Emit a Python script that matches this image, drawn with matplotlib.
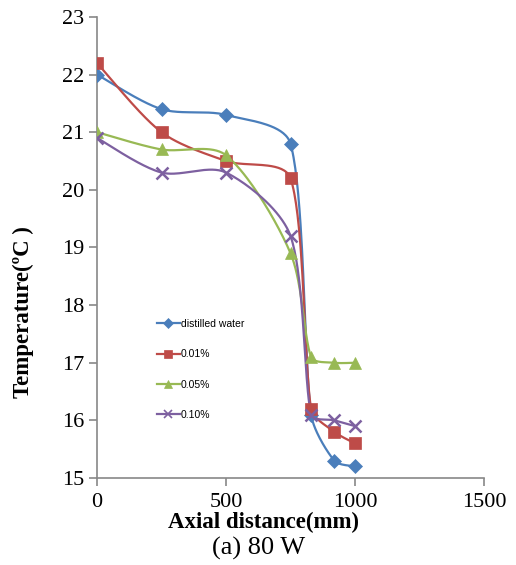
import numpy as np
import matplotlib
matplotlib.use("Agg")
import matplotlib.pyplot as plt

# Data
distance = [0, 250, 500, 750, 830, 920, 1000]
series_names = ["distilled water", "0.01%", "0.05%", "0.10%"]
distilled = [22.0, 21.4, 21.3, 20.8, 16.1, 15.3, 15.2]
conc_001 = [22.2, 21.0, 20.5, 20.2, 16.2, 15.8, 15.6]
conc_005 = [21.0, 20.7, 20.6, 18.9, 17.1, 17.0, 17.0]
conc_010 = [20.9, 20.3, 20.3, 19.2, 16.1, 16.0, 15.9]

colors = ["#4A7EBB", "#BE4B48", "#98B954", "#7D60A0"]
markers = ["D", "s", "^", "x"]
msizes = [7.5, 8.5, 8.5, 8]

# pixel scale of the plot area, used so the smoothing works in screen space
PX_X = 387 / 1500
PX_Y = 461 / 8


def smooth(x, y, n=40):
    """Excel-like smoothed line: Bezier through the points, with the
    control arm capped by the segment length so it does not overshoot."""
    p = np.column_stack([np.asarray(x, float) * PX_X,
                         np.asarray(y, float) * PX_Y])
    k = len(p)
    tan = [p[min(i + 1, k - 1)] - p[max(i - 1, 0)] for i in range(k)]
    t = np.linspace(0, 1, n)[:, None]
    out = []
    for i in range(k - 1):
        seg = np.linalg.norm(p[i + 1] - p[i])
        a = tan[i]
        b = tan[i + 1]
        la = min(np.linalg.norm(a) / 6, seg * 0.3)
        lb = min(np.linalg.norm(b) / 6, seg * 0.3)
        c1 = p[i] + a / np.linalg.norm(a) * la
        c2 = p[i + 1] - b / np.linalg.norm(b) * lb
        bz = ((1 - t) ** 3 * p[i] + 3 * (1 - t) ** 2 * t * c1
              + 3 * (1 - t) * t ** 2 * c2 + t ** 3 * p[i + 1])
        out.append(bz)
    out = np.vstack(out)
    return out[:, 0] / PX_X, out[:, 1] / PX_Y


fig = plt.figure(figsize=(5.16, 5.65), dpi=100)
ax = fig.add_axes([0.188, 0.154, 0.750, 0.816])

serif = "Liberation Serif"
for vals, name, c, m, ms in zip([distilled, conc_001, conc_005, conc_010],
                                series_names, colors, markers, msizes):
    sx, sy = smooth(distance, vals)
    ax.plot(sx, sy, color=c, lw=1.6, zorder=2)
    ax.plot(distance, vals, linestyle="none", marker=m, color=c,
            markersize=ms, markeredgewidth=1.8 if m == "x" else 0.5, zorder=3)
    # legend handle
    ax.plot([], [], color=c, lw=1.6, marker=m, markersize=ms * 0.7,
            markeredgewidth=1.2 if m == "x" else 0.5, label=name)

ax.set_xlim(0, 1500)
ax.set_ylim(15, 23)
ax.set_xticks([0, 500, 1000, 1500])
ax.set_yticks(range(15, 24))

for s in ["top", "right"]:
    ax.spines[s].set_visible(False)
for s in ["left", "bottom"]:
    ax.spines[s].set_color("#888888")
    ax.spines[s].set_linewidth(1.2)
ax.tick_params(direction="out", length=6, width=1.2, color="#888888",
               labelsize=16)
ax.tick_params(axis="y", pad=3)
ax.tick_params(axis="x", pad=5)
for lab in ax.get_xticklabels() + ax.get_yticklabels():
    lab.set_fontfamily(serif)

ax.set_xlabel("Axial distance(mm)", fontfamily=serif, fontweight="bold",
              fontsize=16.5)
ax.xaxis.set_label_coords(0.429, -0.097, transform=ax.transAxes)
ax.xaxis.label.set_va("center")
ax.set_ylabel("Temperature(ºC )", fontfamily=serif, fontweight="bold",
              fontsize=16.5)
ax.yaxis.set_label_coords(-0.191, 0.36, transform=ax.transAxes)
ax.yaxis.label.set_va("center")

leg = ax.legend(loc="upper left", bbox_to_anchor=(0.13, 0.365), frameon=False,
                prop={"family": "Liberation Sans", "size": 7.5},
                handlelength=2.2, handletextpad=0.1, labelspacing=1.95)

fig.text(0.502, 0.030, "(a) 80 W", ha="center", va="center",
         fontfamily=serif, fontsize=19)

fig.savefig("out.png", dpi=100)
